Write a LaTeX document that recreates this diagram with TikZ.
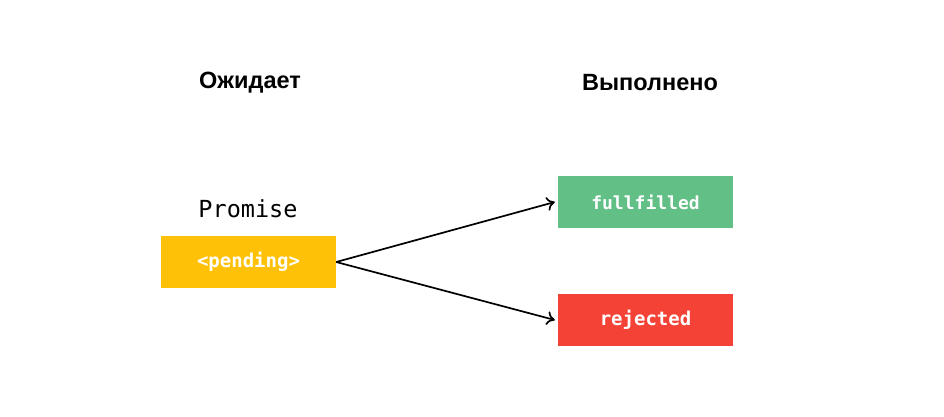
\documentclass[tikz,border=0pt]{standalone}
\usepackage{fontspec}
\setmainfont{Liberation Sans}
\newfontfamily\monofont{DejaVu Sans Mono}
\usetikzlibrary{arrows.meta}
\definecolor{amber}{HTML}{FFC107}
\definecolor{okgreen}{HTML}{62BF86}
\definecolor{errred}{HTML}{F44336}
\tikzset{
  statebox/.style={minimum width=175pt, minimum height=52pt, inner sep=0pt, text=white, font=\monofont\bfseries\fontsize{19}{22}\selectfont},
  heading/.style={font=\bfseries\fontsize{23.5}{26}\selectfont, inner sep=0pt},
  conn/.style={line width=1.7pt, -{To[length=8pt,width=14pt]}}
}
\begin{document}
\begin{tikzpicture}[x=1pt,y=-1pt]
\useasboundingbox[fill=white] (0,0) rectangle (944,417);
\node[heading] (h1) at (250,83) {Ожидает};
\node[heading] (h2) at (650,83) {Выполнено};
\node[inner sep=0pt, font=\monofont\fontsize{23.5}{26}\selectfont] (pr) at (248,209) {Promise};
\node[statebox, fill=amber] (pend) at (248.5,262) {<pending>};
\node[statebox, fill=okgreen, font=\monofont\bfseries\fontsize{18}{22}\selectfont] (ful) at (645.5,202) {fullfilled};
\node[statebox, fill=errred] (rej) at (645.5,320) {rejected};
\draw[conn] (pend.east) -- ([xshift=-3pt]ful.west);
\draw[conn] (pend.east) -- ([xshift=-3pt]rej.west);
\end{tikzpicture}
\end{document}
